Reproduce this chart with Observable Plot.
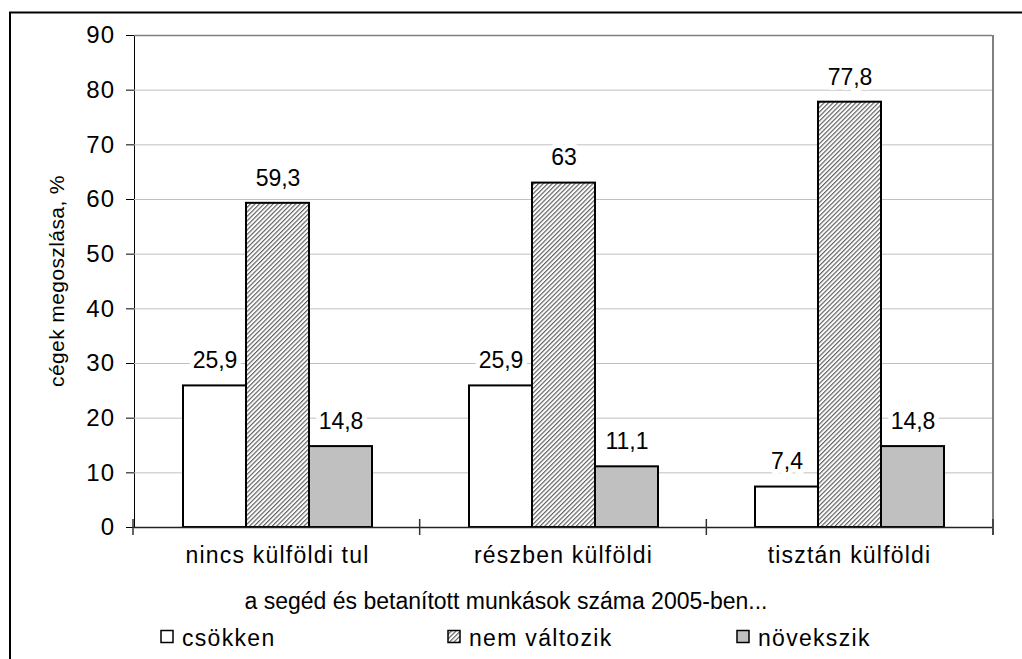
<!DOCTYPE html>
<html><head><meta charset="utf-8">
<script src="https://cdn.jsdelivr.net/npm/d3@7"></script>
<script src="https://cdn.jsdelivr.net/npm/@observablehq/plot@0.6"></script>
<style>
html,body{margin:0;padding:0;background:white;}
#chart{position:relative;width:1022px;height:659px;overflow:hidden;}
#chart g[aria-label^="y-axis"] text{font-size:24px;letter-spacing:1.3px;}
#chart g[aria-label^="fx-axis"] text{letter-spacing:1.2px;}
#chart g[aria-label="value-label"] text{letter-spacing:1.4px;}
</style></head><body><div id="chart"></div>
<script>
const categories = ["nincs külföldi tul", "részben külföldi", "tisztán külföldi"];
const seriesNames = ["csökken", "nem változik", "növekszik"];
const csokken = [25.9, 25.9, 7.4];
const nemValtozik = [59.3, 63, 77.8];
const novekszik = [14.8, 11.1, 14.8];
const yTicks = [0, 10, 20, 30, 40, 50, 60, 70, 80, 90];
const yTitle = "cégek megoszlása, %";
const xTitle = "a segéd és betanított munkások száma 2005-ben...";
const seriesFill = {"csökken": "white", "nem változik": "url(#hatch)", "növekszik": "#c0c0c0"};

const seriesValues = [csokken, nemValtozik, novekszik];
const rows = [];
categories.forEach((c, i) => seriesNames.forEach((s, j) => rows.push({cat: c, series: s, value: seriesValues[j][i]})));
const fmt = v => String(v).replace(".", ",");
const FONT = "'Liberation Sans', Arial, sans-serif";

const chart = Plot.plot({
  width: 1022, height: 659,
  marginLeft: 133, marginRight: 29, marginTop: 35, marginBottom: 132,
  style: {fontFamily: FONT, fontSize: "23px", color: "black", background: "white"},
  facet: {data: rows, x: "cat"},
  fx: {domain: categories, padding: 0, axis: "bottom", label: null, tickSize: 0, tickPadding: 19},
  x: {domain: seriesNames, paddingInner: 0, paddingOuter: 0.75, axis: null},
  y: {domain: [0, 90], ticks: yTicks, tickSize: 8, tickPadding: 11, tickFormat: fmt, label: null, line: true},
  color: {type: "identity"},
  marks: [
    Plot.ruleY(yTicks.filter(v => v > 0 && v < 90), {stroke: "#c0c0c0", strokeWidth: 1}),
    Plot.ruleY([90], {stroke: "#808080", strokeWidth: 1.5}),
    Plot.barY(rows, {x: "series", y: "value", fill: d => seriesFill[d.series], stroke: "black", strokeWidth: 2}),
    Plot.ruleY([0], {stroke: "#222", strokeWidth: 1.5}),
    Plot.text(rows, {x: "series", y: "value", text: d => fmt(d.value), lineAnchor: "middle", dy: -25,
      fill: "black", stroke: "white", strokeWidth: 10, paintOrder: "stroke", ariaLabel: "value-label"})
  ]
});

const svg = d3.select(chart.tagName.toLowerCase() === "svg" ? chart : chart.querySelector("svg"));
const defs = svg.insert("defs", ":first-child");
const pat = defs.append("pattern").attr("id", "hatch").attr("patternUnits", "userSpaceOnUse")
  .attr("width", 3.2).attr("height", 3.2).attr("patternTransform", "rotate(45)");
pat.append("rect").attr("width", 3.2).attr("height", 3.2).attr("fill", "white");
pat.append("line").attr("x1", 0.6).attr("y1", 0).attr("x2", 0.6).attr("y2", 3.2)
  .attr("stroke", "#555").attr("stroke-width", 1.1);

const fxS = chart.scale("fx"), yS = chart.scale("y");
const yPx = v => yS.range[0] + (v - yS.domain[0]) / (yS.domain[1] - yS.domain[0]) * (yS.range[1] - yS.range[0]);
const fx0 = fxS.range[0], fx1 = fxS.range[1], n = fxS.domain.length;
const g = svg.append("g").attr("text-anchor", "start");
// right border of the plot area
g.append("line").attr("x1", fx1).attr("x2", fx1).attr("y1", yPx(90)).attr("y2", yPx(0) + 8)
  .attr("stroke", "#808080").attr("stroke-width", 2);
// category boundary ticks
for (let k = 0; k <= n; k++) {
  const x = fx0 + k * (fx1 - fx0) / n;
  g.append("line").attr("x1", x).attr("x2", x).attr("y1", yPx(0) - 8).attr("y2", yPx(0) + 8)
    .attr("stroke", "#333").attr("stroke-width", 1.5);
}
// y title
g.append("text").attr("transform", `translate(56,${(yPx(0) + yPx(90)) / 2}) rotate(-90)`)
  .attr("text-anchor", "middle").attr("dominant-baseline", "central")
  .attr("font-family", FONT).attr("font-size", 21).attr("letter-spacing", "0.4px").text(yTitle);
// x title
g.append("text").attr("x", 506).attr("y", 609).attr("text-anchor", "middle")
  .attr("font-family", FONT).attr("font-size", 23).text(xTitle);
// legend
const legendX = [161, 448, 737];
seriesNames.forEach((s, i) => {
  g.append("rect").attr("x", legendX[i]).attr("y", 630.5).attr("width", 12).attr("height", 12)
    .attr("fill", seriesFill[s]).attr("stroke", "black").attr("stroke-width", 1.5);
  g.append("text").attr("x", legendX[i] + 21).attr("y", 646).attr("text-anchor", "start")
    .attr("font-family", FONT).attr("font-size", 23).attr("letter-spacing", "1.3px").text(s);
});
// outer frame
g.append("rect").attr("x", 10).attr("y", 12.5).attr("width", 1100).attr("height", 700)
  .attr("fill", "none").attr("stroke", "black").attr("stroke-width", 2);

document.getElementById("chart").appendChild(chart);
</script></body></html>
